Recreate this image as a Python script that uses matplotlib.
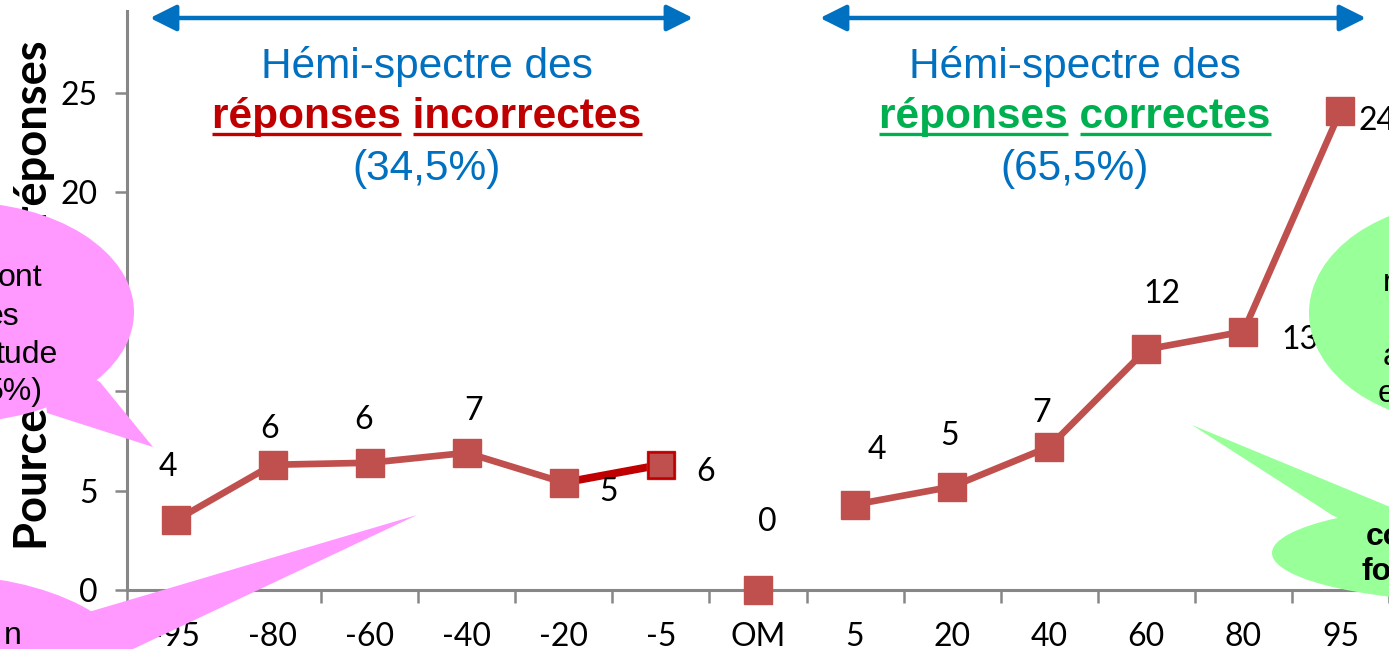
"""Hemi-spectre des réponses: pourcentage de réponses par niveau de certitude."""

import matplotlib
import numpy as np

matplotlib.use("Agg")
import matplotlib.pyplot as plt  # noqa: E402
from matplotlib.patches import Ellipse, FancyArrowPatch, Polygon  # noqa: E402

categories = ["-95", "-80", "-60", "-40", "-20", "-5", "OM",
              "5", "20", "40", "60", "80", "95"]
values = [3.5, 6.3, 6.4, 6.9, 5.4, 6.3, 0.0, 4.3, 5.2, 7.2, 12.1, 13.0, 24.1]
yticks = [0, 5, 10, 15, 20, 25]
ylabel = "Pourcentage de réponses"
halves = [("incorrectes", "(34,5%)"), ("correctes", "(65,5%)")]

# data-label offsets in pixels (dx, dy upward)
label_offsets = [(-8, 53), (-3, 36), (-6, 43), (7, 42), (45, -9), (45, -7), (9, 68),
                 (22, 55), (-3, 51), (-8, 34), (16, 55), (56, -8), (37, -10)]

W, H = 1389, 649
RED, DARK = "#C0504D", "#C00000"
BLUE, GREEN = "#0070C0", "#00B050"
PINK, LGREEN = "#FF99FF", "#99FF99"
GREY = "#878787"
NUM = "Lato"
ARIAL = "Liberation Sans"


def main() -> None:
    fig = plt.figure(figsize=(W / 100, H / 100), dpi=100)
    px = 19.88  # pixels per unit on y
    ax = fig.add_axes([127 / W, 59 / H, (W - 127) / W, 29.1 * px / H])
    x = np.arange(len(categories))
    y = np.array(values)

    kw = dict(color=RED, lw=4.8, zorder=3)
    ax.plot(x[:5], y[:5], **kw)
    ax.plot(x[4:6], y[4:6], color=DARK, lw=5.6, zorder=3)
    ax.plot(x[7:], y[7:], **kw)
    ax.plot(x, y, ls="none", marker="s", ms=19.5, mfc=RED, mec=RED, zorder=4, clip_on=False)
    ax.plot(x[5], y[5], marker="s", ms=18.5, mfc=RED, mec=DARK, mew=1.8, zorder=5)
    for xi, yi, (dx, dy) in zip(x, y, label_offsets):
        ax.annotate(f"{yi:.0f}", (xi, yi), xytext=(dx, dy), textcoords="offset pixels",
                    ha="center", va="center", fontsize=23, family=NUM, zorder=6)

    ax.set_xlim(-0.5, len(categories) - 0.5)
    ax.set_ylim(0, 29.1)
    ax.set_xticks(x, categories)
    ax.set_xticks(np.arange(len(categories) + 1) - 0.5, minor=True)
    ax.set_yticks(yticks)
    ax.tick_params(axis="x", which="major", length=0, pad=23, labelsize=23)
    ax.tick_params(axis="x", which="minor", length=9, width=1.8, color=GREY)
    ax.tick_params(axis="y", length=9, width=1.8, color=GREY, pad=12, labelsize=23)
    for lab in ax.get_xticklabels() + ax.get_yticklabels():
        lab.set_family(NUM)
    for s in ("top", "right"):
        ax.spines[s].set_visible(False)
    for s in ("left", "bottom"):
        ax.spines[s].set_color(GREY)
        ax.spines[s].set_linewidth(2.2)
    ax.set_ylabel(ylabel, fontsize=32.6, fontweight="bold", family=NUM, va="center")
    ax.yaxis.set_label_coords(-0.074, 0.51)

    # overlay in pixel coordinates: arrows, titles, callouts
    ov = fig.add_axes([0, 0, 1, 1], zorder=5)
    ov.set_xlim(0, W)
    ov.set_ylim(H, 0)
    ov.axis("off")

    for x0, x1 in [(150, 693), (820, 1366)]:
        ov.add_patch(FancyArrowPatch((x0, 18), (x1, 18), shrinkA=0, shrinkB=0,
                                     arrowstyle="<|-|>,head_length=1.6,head_width=0.8",
                                     mutation_scale=10, lw=3.2, color=BLUE))

    heads = []
    for cx, color, (word, pct) in zip([427, 1075], [DARK, GREEN], halves):
        ov.text(cx, 78, "Hémi-spectre des", ha="center", va="baseline",
                fontsize=30.5, family=ARIAL, color=BLUE)
        t = ov.text(cx, 128, f"réponses {word}", ha="center", va="baseline",
                    fontsize=30.5, family=ARIAL, color=color, fontweight="bold")
        ov.text(cx, 180, pct, ha="center", va="baseline",
                fontsize=30.5, family=ARIAL, color=BLUE)
        heads.append((t, word, color))

    # callouts (cut by the picture edge)
    ov.add_patch(Ellipse((-40, 312), 348, 220, color=PINK, lw=0))
    ov.add_patch(Polygon([(40, 350), (100, 382), (153, 447), (47, 413)], color=PINK, lw=0))
    ov.add_patch(Ellipse((-60, 680), 400, 210, color=PINK, lw=0))
    ov.add_patch(Polygon([(60, 620), (92, 611), (417, 515), (25, 700)], color=PINK, lw=0))
    ov.add_patch(Ellipse((1470, 313), 322, 224, color=LGREEN, lw=0))
    ov.add_patch(Ellipse((1500, 553), 456, 100, color=LGREEN, lw=0))
    ov.add_patch(Polygon([(1380, 540), (1332, 515), (1192, 425), (1395, 509)],
                         color=LGREEN, lw=0))
    ct = dict(fontsize=23, family=ARIAL, va="center")
    for s, xr, yc in [("ont", 42, 278), ("es", 19, 317), ("tude", 58, 355),
                      ("5%)", 43, 392), ("n", 22, 636)]:
        ov.text(xr, yc, s, ha="right", **ct)
    for s, xl, yc in [("r", 1383, 283), ("a", 1383, 357), ("e", 1378, 394)]:
        ov.text(xl, yc, s, ha="left", **ct)
    for s, xl, yc in [("co", 1366, 537), ("fo", 1361, 572)]:
        ov.text(xl, yc, s, ha="left", fontweight="bold", **ct)

    # underline each word of the bold lines
    fig.canvas.draw()
    r = fig.canvas.get_renderer()
    for t, word, color in heads:
        bb = t.get_window_extent(r)
        tmp = ov.text(0, 0, "réponses", fontsize=30.5, family=ARIAL, fontweight="bold")
        w1 = tmp.get_window_extent(r).width
        tmp.set_text(word)
        w2 = tmp.get_window_extent(r).width
        tmp.remove()
        for a, b in [(bb.x0, bb.x0 + w1), (bb.x1 - w2, bb.x1)]:
            ov.plot([a, b], [134, 134], color=color, lw=2.4, solid_capstyle="butt")

    fig.savefig("out.png", dpi=100)


if __name__ == "__main__":
    main()
